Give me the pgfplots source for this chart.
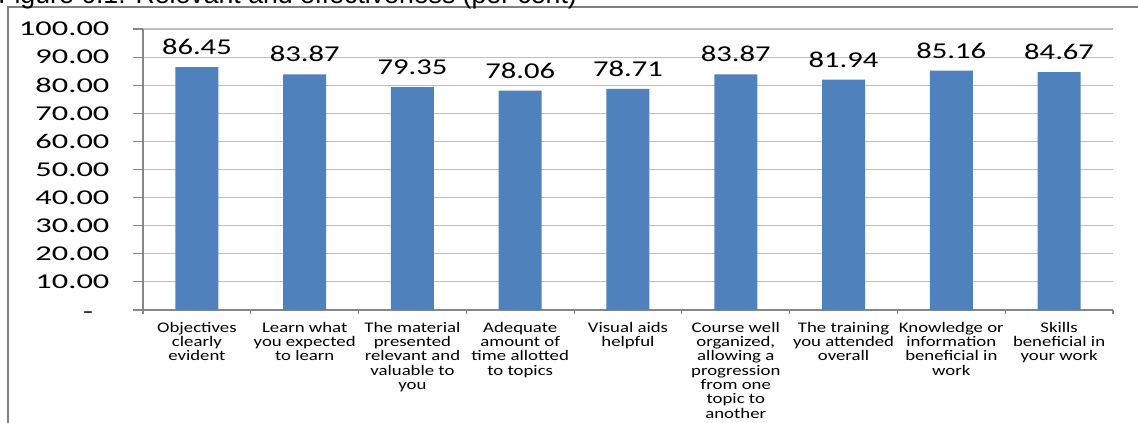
\documentclass[border=0pt]{standalone}
\usepackage{pgfplots}
\pgfplotsset{compat=1.18}
\usepackage{fontspec}
\setmainfont{Carlito}
\newfontfamily\tickf[FakeStretch=1.54]{Carlito}
\newfontfamily\datf[FakeStretch=1.35]{Carlito}
\newfontfamily\catf[FakeStretch=1.28]{Carlito}
\newfontfamily\titf{Liberation Sans}
\definecolor{barblue}{RGB}{79,129,189}
\definecolor{gridgray}{RGB}{190,190,190}
\definecolor{axisgray}{RGB}{134,134,134}
\definecolor{bordergray}{RGB}{128,128,128}
\begin{document}
\begin{tikzpicture}
\useasboundingbox (0,0) rectangle (853.5pt,316.5pt);
\clip (0,0) rectangle (853.5pt,316.5pt);
\draw[bordergray, line width=1.2pt] (6pt,-30pt) rectangle (880pt,311.25pt);
\node[anchor=base west, inner sep=0pt] at (-1.5pt,313.6pt) {\resizebox{434pt}{!}{\titf Figure 6.1: Relevant and effectiveness (per cent)}};
\begin{axis}[
  at={(107.25pt,84pt)}, anchor=south west,
  scale only axis, width=727.5pt, height=210.75pt,
  xmin=-0.5, xmax=8.5, ymin=0, ymax=100,
  axis lines*=left,
  axis line style={axisgray, line width=0.8pt},
  ytick={0,10,...,100},
  yticklabels={{\smash{\raisebox{-6pt}{-}}\hphantom{0}},10.00,20.00,30.00,40.00,50.00,60.00,70.00,80.00,90.00,100.00},
  yticklabel style={font=\fontsize{15.8}{16}\tickf, anchor=east, inner sep=0pt, xshift=-17.5pt},
  ymajorgrids,
  grid style={gridgray, line width=0.8pt},
  tick align=outside,
  major tick length=7.5pt,
  minor tick length=3pt,
  tick style={axisgray, line width=0.8pt},
  xtick={0,...,8},
  major x tick style={draw=none},
  minor xtick={-0.5,0.5,...,8.5},
  xticklabels={
    {Objectives\\clearly\\evident},
    {Learn what\\you expected\\to learn},
    {The material\\presented\\relevant and\\valuable to\\you},
    {Adequate\\amount of\\time allotted\\to topics},
    {Visual aids\\helpful},
    {Course well\\organized,\\allowing a\\progression\\from one\\topic to\\another},
    {The training\\you attended\\overall},
    {Knowledge or\\information\\beneficial in\\work},
    {Skills\\beneficial in\\your work}},
  xticklabel style={font=\fontsize{11}{10.7}\catf, align=center, anchor=north, inner sep=0pt, yshift=-1.5pt},
  ybar, bar width=32.25pt,
  nodes near coords={\pgfmathprintnumber[fixed,fixed zerofill,precision=2,assume math mode=true]{\pgfplotspointmeta}},
  every node near coord/.append style={font=\fontsize{17}{18}\datf, anchor=south, inner sep=0pt, yshift=9pt, black},
]
\addplot[fill=barblue, draw=none] coordinates {
  (0,86.45) (1,83.87) (2,79.35) (3,78.06) (4,78.71) (5,83.87) (6,81.94) (7,85.16) (8,84.67)};
\end{axis}
\end{tikzpicture}
\end{document}
